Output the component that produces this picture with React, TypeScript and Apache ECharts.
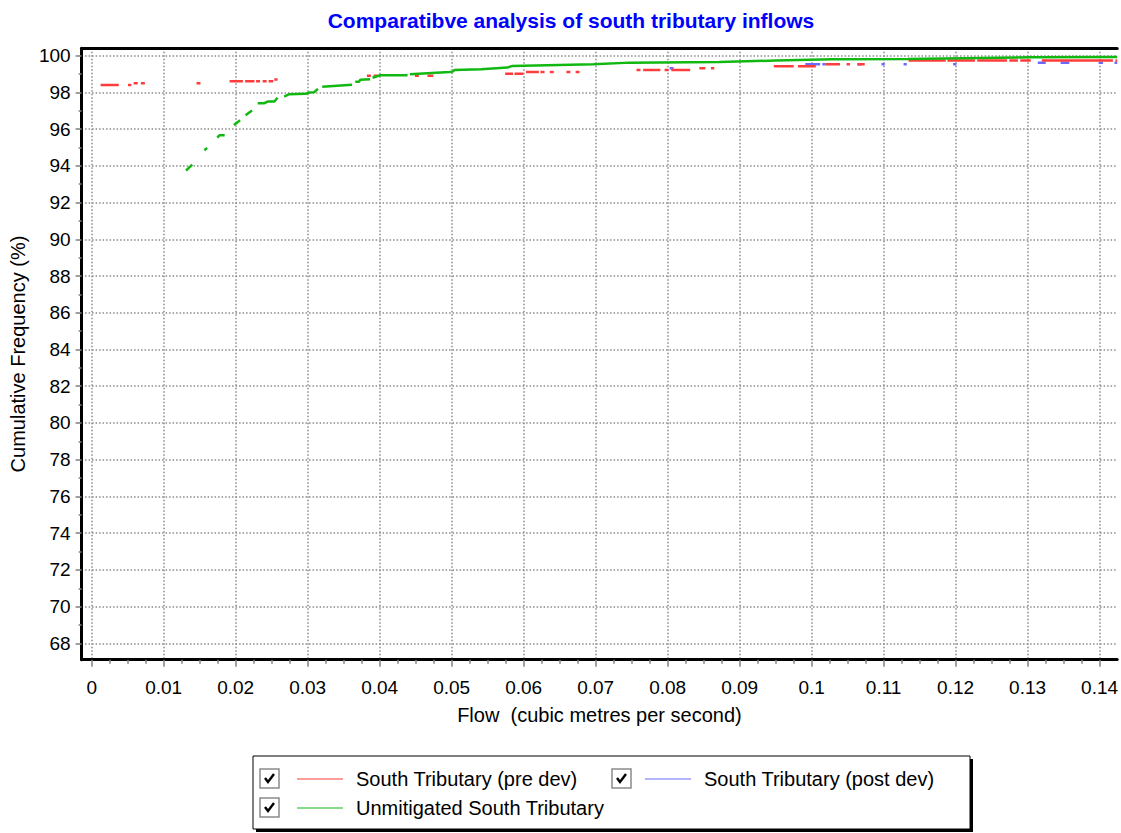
import React, { useEffect, useRef } from "react";
import * as echarts from "echarts";

// ---- Axis ticks ----
const xTickValues = [0, 0.01, 0.02, 0.03, 0.04, 0.05, 0.06, 0.07, 0.08, 0.09, 0.1, 0.11, 0.12, 0.13, 0.14];
const yTickValues = [68, 70, 72, 74, 76, 78, 80, 82, 84, 86, 88, 90, 92, 94, 96, 98, 100];
const yMinorTickValues = [67, 69, 71, 73, 75, 77, 79, 81, 83, 85, 87, 89, 91, 93, 95, 97, 99];

// ---- Series names ----
const seriesNames = ["South Tributary (pre dev)", "South Tributary (post dev)", "Unmitigated South Tributary"];

// ---- South Tributary (pre dev): horizontal dashes [x start, x end, cumulative %] ----
const preDevSegments: [number, number, number][] = [
  [0.00124, 0.00376, 98.4], [0.00505, 0.00551, 98.4], [0.00583, 0.00638, 98.5], [0.00684, 0.00739, 98.5],
  [0.01456, 0.01511, 98.5], [0.01916, 0.021, 98.6], [0.02131, 0.02261, 98.6], [0.02283, 0.02338, 98.6],
  [0.02375, 0.0243, 98.6], [0.02458, 0.02523, 98.6], [0.02537, 0.02582, 98.7],
  [0.03823, 0.03878, 98.91], [0.03915, 0.0397, 98.91], [0.04489, 0.04544, 98.91], [0.04664, 0.04746, 98.91],
  [0.05743, 0.05853, 99.02], [0.05873, 0.05997, 99.02],
  [0.06033, 0.06212, 99.11], [0.06235, 0.0629, 99.11], [0.06364, 0.06419, 99.11], [0.06594, 0.06649, 99.11], [0.06722, 0.06777, 99.11],
  [0.07568, 0.07623, 99.22], [0.0766, 0.07899, 99.22], [0.07958, 0.08014, 99.22], [0.08051, 0.08313, 99.22],
  [0.08441, 0.08524, 99.31], [0.08602, 0.08648, 99.31],
  [0.09475, 0.09751, 99.42], [0.0981, 0.10058, 99.42],
  [0.10196, 0.10394, 99.53], [0.10486, 0.10532, 99.53], [0.10637, 0.10738, 99.53],
  [0.11346, 0.11864, 99.73], [0.11887, 0.12269, 99.73], [0.12301, 0.12715, 99.73], [0.12746, 0.12866, 99.73],
  [0.12898, 0.13045, 99.73], [0.13197, 0.14185, 99.73], [0.14221, 0.14245, 99.73],
];

// ---- South Tributary (post dev): horizontal dashes [x start, x end, cumulative %] ----
const postDevSegments: [number, number, number][] = [
  [0.08027, 0.08083, 99.31], [0.09912, 0.10119, 99.53], [0.1015, 0.10196, 99.53], [0.10637, 0.10692, 99.53],
  [0.1097, 0.11015, 99.53], [0.11277, 0.11322, 99.53], [0.11966, 0.12012, 99.53],
  [0.13142, 0.13252, 99.62], [0.13459, 0.13579, 99.62], [0.13987, 0.14047, 99.62], [0.14207, 0.14245, 99.62],
];

// ---- Unmitigated South Tributary: runs of [flow, cumulative %] ----
const unmitigatedRuns: [number, number][][] = [
  [[0.0131, 93.74], [0.01396, 94.07]],
  [[0.01566, 94.85], [0.01603, 94.98]],
  [[0.01745, 95.54], [0.01777, 95.67], [0.01847, 95.67]],
  [[0.01975, 96.23], [0.02062, 96.48]],
  [[0.02137, 96.76], [0.02228, 97.01]],
  [[0.02306, 97.41], [0.02399, 97.41], [0.02444, 97.5], [0.02537, 97.5], [0.02582, 97.71]],
  [[0.02674, 97.77], [0.02743, 97.9], [0.02972, 97.92], [0.03019, 97.99], [0.03088, 98.01], [0.03143, 98.19]],
  [[0.03202, 98.31], [0.03616, 98.42]],
  [[0.03661, 98.58], [0.03716, 98.58], [0.0373, 98.69], [0.03868, 98.72]],
  [[0.03901, 98.8], [0.04006, 98.93], [0.04388, 98.93]],
  [[0.0442, 98.99], [0.04971, 99.11], [0.05016, 99.13], [0.0504, 99.22], [0.05408, 99.26], [0.05776, 99.35],
   [0.05845, 99.44], [0.0697, 99.53], [0.07476, 99.62], [0.08717, 99.66], [0.09498, 99.73], [0.10279, 99.8],
   [0.11336, 99.82], [0.13036, 99.91], [0.14245, 99.93]],
];

const FONT = "'Liberation Sans', Arial, sans-serif";
const X_MIN = -0.0014;
const X_MAX = 0.14245;
const Y_MIN = 67.11;
const Y_MAX = 100.4;

const segmentsToData = (segs: [number, number, number][]) => {
  const out: any[] = [];
  segs.forEach(([a, b, y], i) => {
    if (i > 0) out.push([a, "-"]);
    out.push([a, y], [b, y]);
  });
  return out;
};

const runsToData = (runs: [number, number][][]) => {
  const out: any[] = [];
  runs.forEach((run, i) => {
    if (i > 0) out.push([run[0][0], "-"]);
    run.forEach((p) => out.push(p));
  });
  return out;
};

const xMinorTickValues = (() => {
  const vals: number[] = [];
  for (let i = 0; i < xTickValues.length; i++) {
    for (let k = 1; k < 4; k++) {
      const v = +(xTickValues[i] + k * 0.0025).toFixed(5);
      if (v <= X_MAX) vals.push(v);
    }
  }
  return vals;
})();

const checkbox = (x: number, y: number) => ({
  type: "group",
  x,
  y,
  children: [
    { type: "rect", shape: { x: 0, y: 0, width: 19, height: 19 }, style: { fill: "#fff", stroke: "#8a8a8a", lineWidth: 1.5 } },
    { type: "polyline", shape: { points: [[5, 9], [8, 13], [14, 5]] }, style: { stroke: "#000", lineWidth: 2.4, fill: null } },
  ],
});

const legendItem = (name: string, left: number, top: number) => ({
  data: [name],
  left,
  top,
  orient: "horizontal",
  icon: "path://M0,0H46V1H0Z",
  symbolKeepAspect: true,
  itemWidth: 46,
  itemHeight: 20,
  padding: 0,
  lineStyle: { width: 1 },
  textStyle: { fontFamily: FONT, fontSize: 20, color: "#000", padding: [0, 0, 0, 8] },
});

export default function App() {
  const ref = useRef<HTMLDivElement>(null);
  useEffect(() => {
    if (!ref.current) return;
    const chart = echarts.init(ref.current, null, { renderer: "svg" });
    const gridLine = { show: true, lineStyle: { color: "#8a8a8a", width: 1.5, type: [1.5, 2] } };
    const option: any = {
      animation: false,
      backgroundColor: "#fff",
      title: {
        text: "Comparatibve analysis of south tributary inflows",
        left: 566,
        top: 5,
        textAlign: "center",
        textStyle: { fontFamily: FONT, fontSize: 21, fontWeight: "bold", color: "#0000ff" },
      },
      grid: { left: 77.5, top: 48.3, right: 0, bottom: 173.3, containLabel: false },
      legend: [
        legendItem(seriesNames[0], 297, 769),
        legendItem(seriesNames[1], 645, 769),
        legendItem(seriesNames[2], 297, 798),
      ],
      xAxis: [
        {
          type: "value",
          min: X_MIN,
          max: X_MAX,
          position: "bottom",
          name: "Flow  (cubic metres per second)",
          nameLocation: "middle",
          nameGap: 45,
          nameTextStyle: { fontFamily: FONT, fontSize: 20, color: "#000" },
          axisLine: { show: true, onZero: false, lineStyle: { color: "#000", width: 3 } },
          axisTick: { show: true, customValues: xTickValues, length: 7, lineStyle: { color: "#7f7f7f", width: 1.5 } },
          axisLabel: {
            show: true,
            customValues: xTickValues,
            margin: 18,
            fontFamily: FONT,
            fontSize: 19,
            color: "#000",
            formatter: (v: number) => String(+(+v).toFixed(4)),
          },
          splitLine: gridLine,
        },
        {
          type: "value",
          min: X_MIN,
          max: X_MAX,
          position: "bottom",
          axisLine: { show: false, onZero: false },
          axisTick: { show: true, customValues: xMinorTickValues, length: 4, lineStyle: { color: "#7f7f7f", width: 1.5 } },
          axisLabel: { show: false },
          splitLine: { show: false },
        },
        {
          type: "value",
          min: X_MIN,
          max: X_MAX,
          position: "top",
          axisLine: { show: true, onZero: false, lineStyle: { color: "#000", width: 3 } },
          axisTick: { show: false },
          axisLabel: { show: false },
          splitLine: { show: false },
        },
      ],
      yAxis: [
        {
          type: "value",
          min: Y_MIN,
          max: Y_MAX,
          position: "left",
          name: "Cumulative Frequency (%)",
          nameLocation: "middle",
          nameRotate: 90,
          nameGap: 49,
          nameTextStyle: { fontFamily: FONT, fontSize: 20, color: "#000" },
          axisLine: { show: true, onZero: false, lineStyle: { color: "#000", width: 3 } },
          axisTick: { show: true, customValues: yTickValues, length: 6, lineStyle: { color: "#7f7f7f", width: 1.5 } },
          axisLabel: { show: true, customValues: yTickValues, margin: 11, fontFamily: FONT, fontSize: 19, color: "#000" },
          splitLine: gridLine,
        },
        {
          type: "value",
          min: Y_MIN,
          max: Y_MAX,
          position: "left",
          axisLine: { show: false, onZero: false },
          axisTick: { show: true, customValues: yMinorTickValues, length: 3, lineStyle: { color: "#7f7f7f", width: 1.5 } },
          axisLabel: { show: false },
          splitLine: { show: false },
        },
      ],
      series: [
        {
          name: seriesNames[1],
          type: "line",
          data: segmentsToData(postDevSegments),
          symbol: "none",
          connectNulls: false,
          lineStyle: { color: "#6a6aff", width: 2.5 },
          itemStyle: { color: "#6a6aff" },
          z: 2,
        },
        {
          name: seriesNames[0],
          type: "line",
          data: segmentsToData(preDevSegments),
          symbol: "none",
          connectNulls: false,
          lineStyle: { color: "#ff3c3c", width: 2.5 },
          itemStyle: { color: "#ff3c3c" },
          z: 3,
        },
        {
          name: seriesNames[2],
          type: "line",
          data: runsToData(unmitigatedRuns),
          symbol: "none",
          connectNulls: false,
          lineStyle: { color: "#12b812", width: 2.5 },
          itemStyle: { color: "#12b812" },
          z: 4,
        },
      ],
      graphic: [
        { type: "rect", z: -1, shape: { x: 256, y: 759, width: 717, height: 73 }, style: { fill: "#000" } },
        { type: "rect", z: 0, shape: { x: 253, y: 756, width: 717, height: 73 }, style: { fill: "#fff", stroke: "#000", lineWidth: 1 } },
        checkbox(260, 769),
        checkbox(612, 769),
        checkbox(260, 798),
      ],
    };
    chart.setOption(option);
    return () => chart.dispose();
  }, []);
  return <div ref={ref} style={{ position: "absolute", left: 0, top: 0, width: 1121, height: 833 }} />;
}
